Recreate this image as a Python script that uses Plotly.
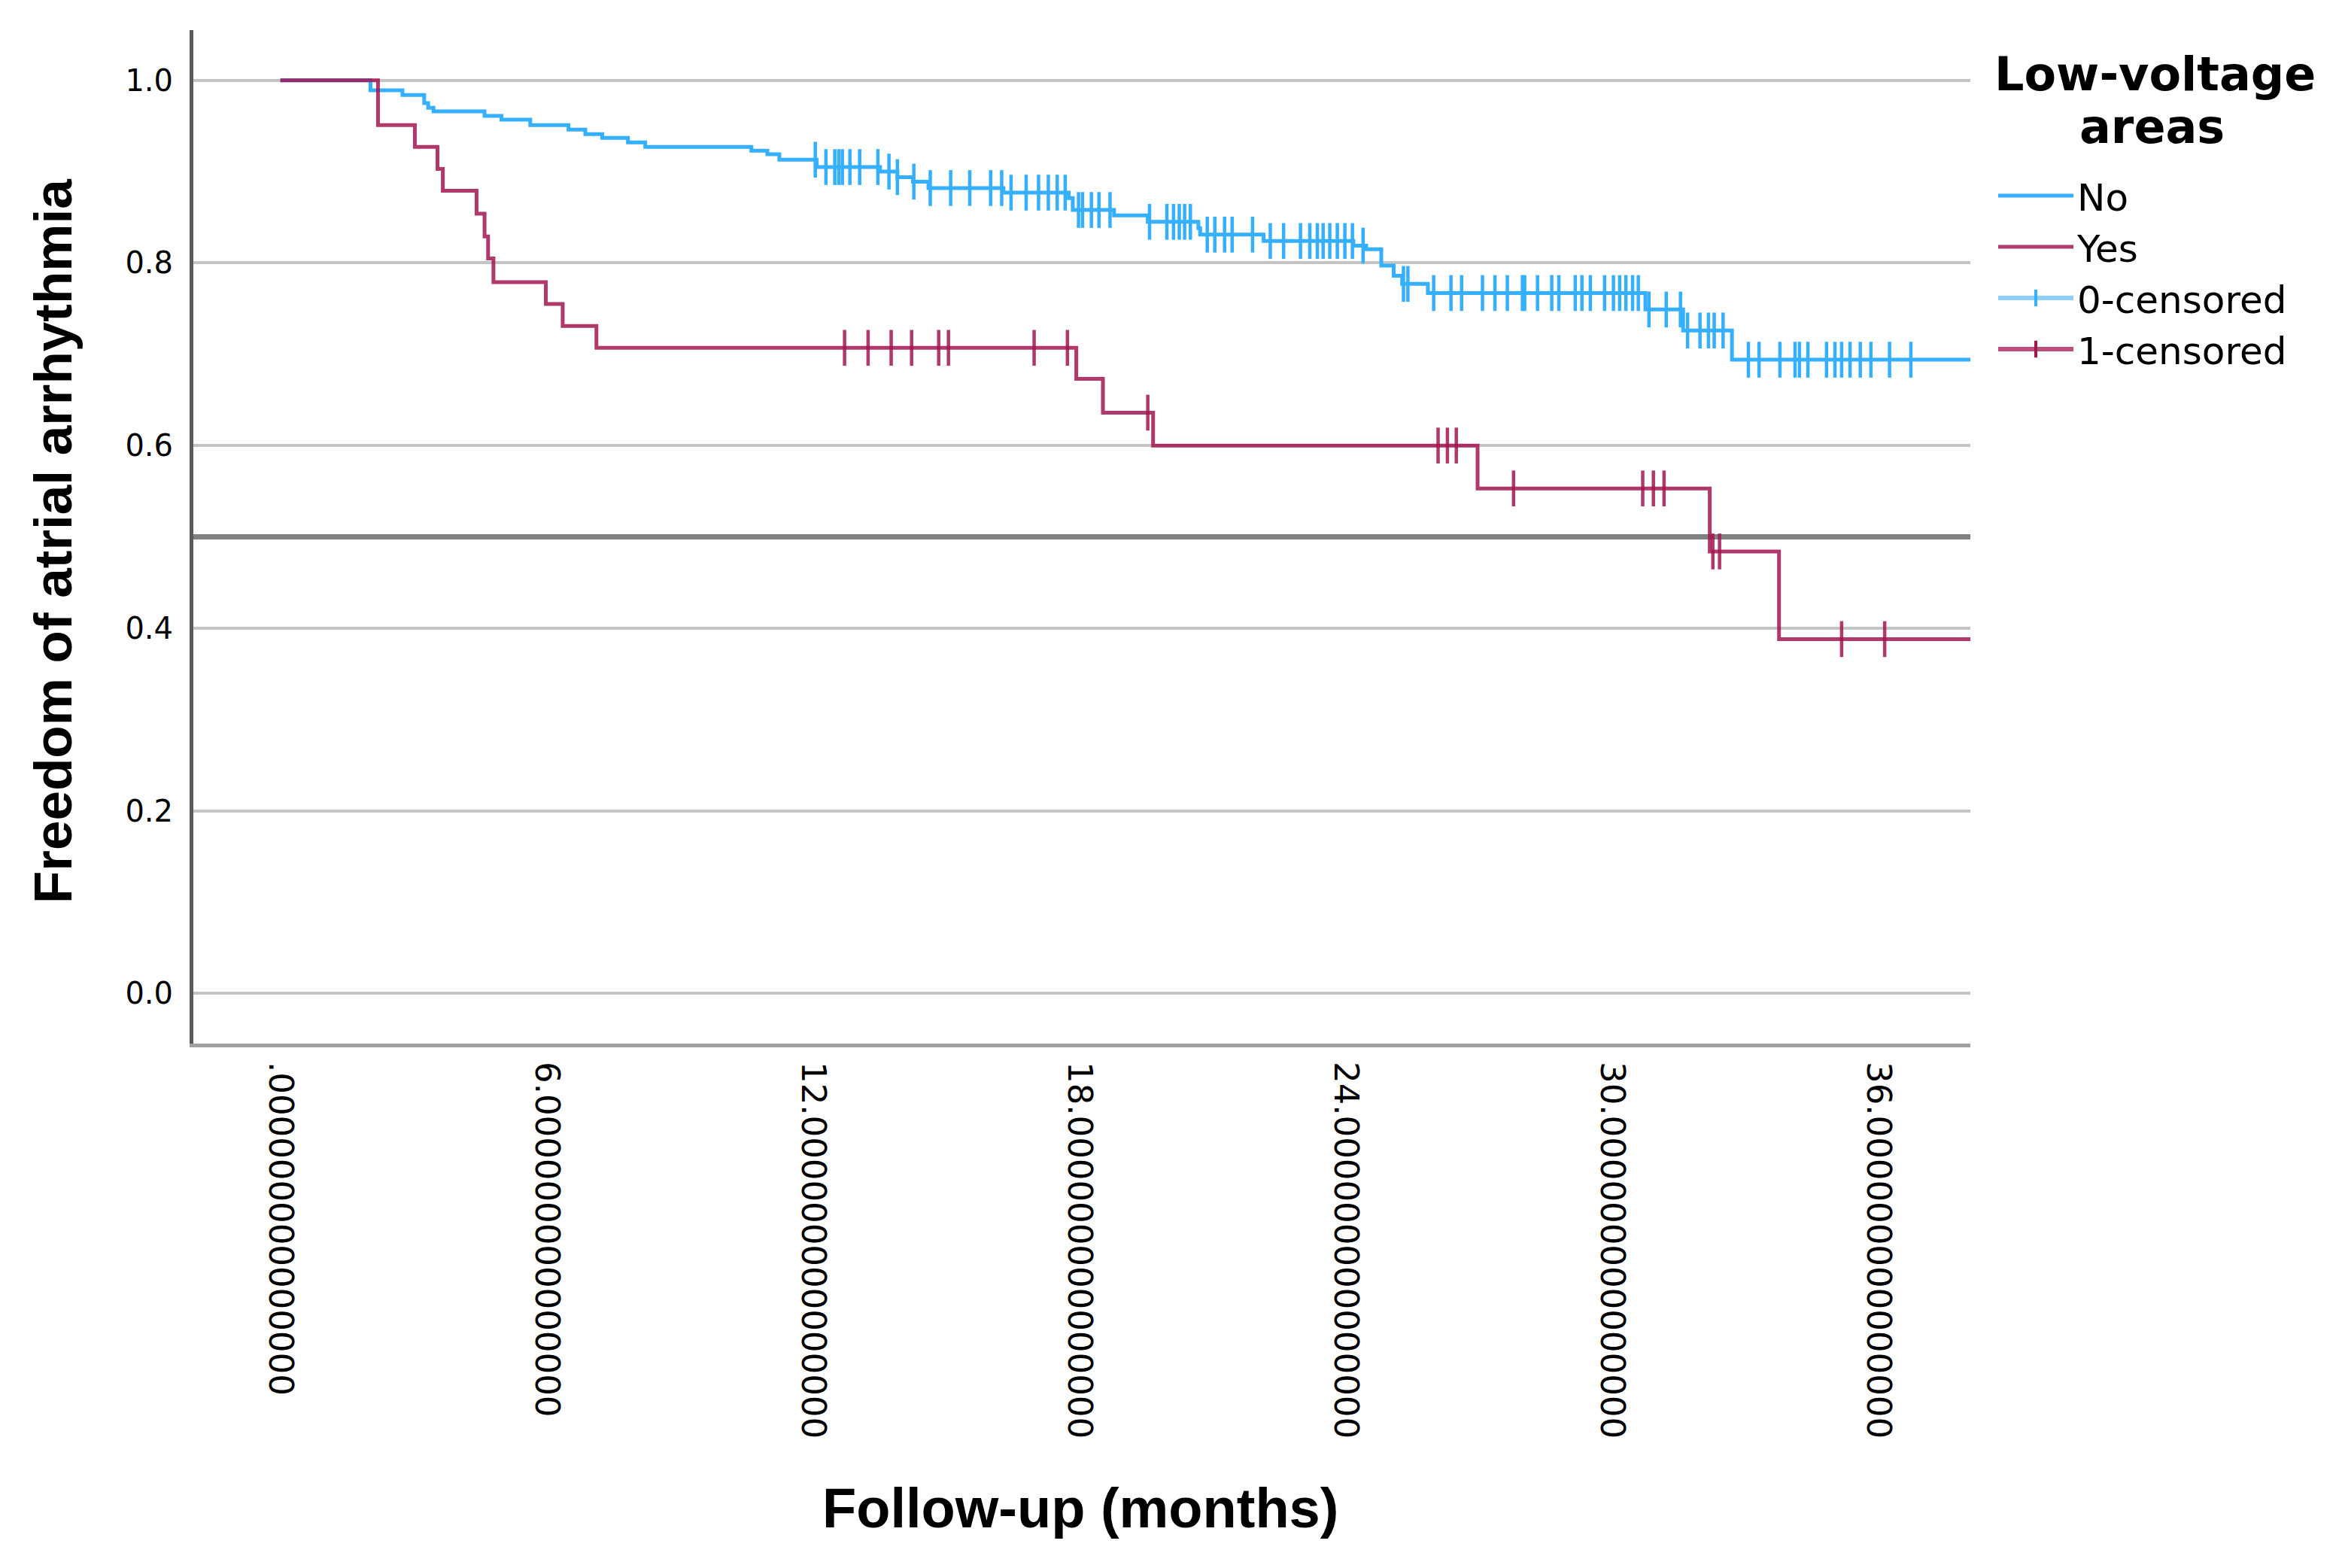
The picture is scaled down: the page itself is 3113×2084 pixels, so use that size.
import numpy as np
import plotly.graph_objects as go

# ---- Kaplan-Meier data (months, survival) ----
time_no = [0, 2.03, 2.75, 3.24, 3.33, 3.45, 4.6, 4.98, 5.63, 6.49, 6.87, 7.25, 7.83, 8.22,
           10.61, 10.97, 11.24, 12.08, 13.51, 13.9, 14.25, 14.6, 16.29, 17.76, 17.85, 18.78,
           19.54, 20.68, 20.72, 22.15, 24.17, 24.46, 24.8, 25.08, 25.27, 25.85, 30.75, 31.6,
           32.7, 38.1]
surv_no = [1.0, 0.989, 0.984, 0.975, 0.970, 0.966, 0.961, 0.957, 0.951, 0.946, 0.941, 0.937,
           0.932, 0.927, 0.923, 0.919, 0.913, 0.905, 0.900, 0.894, 0.889, 0.882, 0.877, 0.871,
           0.858, 0.852, 0.845, 0.838, 0.831, 0.824, 0.819, 0.815, 0.797, 0.786, 0.777, 0.767,
           0.749, 0.726, 0.694, 0.694]
cens_no = [12.05, 12.29, 12.49, 12.58, 12.66, 12.83, 13.05, 13.46, 13.71, 13.9, 14.27, 14.64,
           15.10, 15.53, 16.0, 16.25, 16.46, 16.80, 17.08, 17.3, 17.5, 17.68, 17.98, 18.07,
           18.27, 18.44, 18.69, 19.58, 19.97, 20.12, 20.25, 20.37, 20.5, 20.88, 21.05, 21.27,
           21.44, 21.9, 22.3, 22.6, 22.98, 23.19, 23.36, 23.49, 23.64, 23.81, 23.98, 24.15,
           24.39, 25.3, 25.4, 25.98, 26.37, 26.61, 27.08, 27.36, 27.64, 27.98, 28.03, 28.32,
           28.64, 28.8, 29.17, 29.32, 29.51, 29.83, 30.03, 30.17, 30.31, 30.46, 30.59, 30.83,
           31.22, 31.54, 31.7, 31.98, 32.17, 32.3, 32.5, 33.07, 33.31, 33.78, 34.12, 34.22,
           34.41, 34.83, 35.02, 35.17, 35.36, 35.59, 35.83, 36.25, 36.73]

time_yes = [0, 2.2, 3.03, 3.54, 3.66, 4.42, 4.6, 4.68, 4.8, 5.98, 6.36, 7.12, 17.93, 18.53,
            19.66, 26.97, 32.2, 33.76, 38.1]
surv_yes = [1.0, 0.951, 0.927, 0.903, 0.879, 0.854, 0.829, 0.805, 0.779, 0.755, 0.731, 0.707,
            0.673, 0.636, 0.600, 0.553, 0.484, 0.388, 0.388]
cens_yes = [12.71, 13.24, 13.76, 14.22, 14.83, 15.05, 16.98, 17.73, 19.54, 26.08, 26.29, 26.49,
            27.78, 30.69, 30.93, 31.17, 32.27, 32.42, 35.17, 36.14]

x_tickvals = [0, 6, 12, 18, 24, 30, 36]
x_ticktext = [".000000000000000", "6.000000000000000", "12.000000000000000",
              "18.000000000000000", "24.000000000000000", "30.000000000000000",
              "36.000000000000000"]
y_tickvals = [0.0, 0.2, 0.4, 0.6, 0.8, 1.0]
y_ticktext = ["0.0", "0.2", "0.4", "0.6", "0.8", "1.0"]
ref_level = 0.5
legend_title = ["Low-voltage", "areas"]

BLUE = "#35AFFF"
RED = "rgba(163,21,80,0.85)"
BLUE_L = "#8DCFFF"
RED_L = "#BC4E7C"


def level_at(times, survs, pts):
    idx = np.searchsorted(np.asarray(times), np.asarray(pts), side="right") - 1
    return list(np.asarray(survs)[idx])


fig = go.Figure()
fig.add_trace(go.Scatter(x=time_no, y=surv_no, mode="lines", line=dict(shape="hv", color=BLUE, width=5),
                         name="No", legendrank=1))
fig.add_trace(go.Scatter(x=time_yes, y=surv_yes, mode="lines", line=dict(shape="hv", color=RED, width=5),
                         name="Yes", legendrank=2))
fig.add_trace(go.Scatter(x=cens_no, y=level_at(time_no, surv_no, cens_no), mode="markers",
                         marker=dict(symbol="line-ns", size=34, line=dict(width=4.5, color=BLUE)),
                         showlegend=False))
fig.add_trace(go.Scatter(x=cens_yes, y=level_at(time_yes, surv_yes, cens_yes), mode="markers",
                         marker=dict(symbol="line-ns", size=34, line=dict(width=4.5, color=RED)),
                         showlegend=False))
# legend entries for censored marks
fig.add_trace(go.Scatter(x=[None], y=[None], mode="lines+markers", name="0-censored",
                         line=dict(color=BLUE_L, width=6),
                         marker=dict(symbol="line-ns", size=16, line=dict(width=4, color=BLUE)),
                         legendrank=3))
fig.add_trace(go.Scatter(x=[None], y=[None], mode="lines+markers", name="1-censored",
                         line=dict(color=RED_L, width=6),
                         marker=dict(symbol="line-ns", size=16, line=dict(width=4, color="#A3154F")),
                         legendrank=4))

fig.add_shape(type="line", xref="paper", x0=0, x1=1, yref="y", y0=ref_level, y1=ref_level,
              line=dict(color="#808080", width=7), layer="below")

# page has an 8px body margin -> figure is drawn 8px in from the window edge
W, H = 3097, 2068
L, R, T, B = 249, 486, 32, 689
PW, PH = W - L - R, H - T - B


def px_x(x):
    return (x - L) / PW


def px_y(y):
    return (H - B - y) / PH


fig.update_layout(
    width=W, height=H,
    margin=dict(l=L, r=R, t=T, b=B, autoexpand=False),
    paper_bgcolor="white", plot_bgcolor="white",
    showlegend=True,
    legend=dict(
        x=px_x(2643), xanchor="left", y=px_y(213), yanchor="top",
        font=dict(family="DejaVu Sans", size=50, color="black"),
        itemwidth=100, tracegroupgap=0, bgcolor="rgba(0,0,0,0)",
    ),
    xaxis=dict(range=[-1.96, 38.07], tickmode="array", tickvals=x_tickvals, ticktext=x_ticktext,
               tickangle=90, tickfont=dict(family="DejaVu Sans", size=45, color="black"),
               showgrid=False, zeroline=False, showline=True, linecolor="#A0A0A0", linewidth=5,
               ticks="", ticklabelstandoff=10),
    yaxis=dict(range=[-0.055, 1.055], tickmode="array", tickvals=y_tickvals, ticktext=y_ticktext,
               tickfont=dict(family="DejaVu Sans", size=40, color="black"),
               showgrid=True, gridcolor="#C4C4C4", gridwidth=4, zeroline=False,
               showline=True, linecolor="#5A5A5A", linewidth=5, ticks="", ticklabelstandoff=14),
    annotations=[
        dict(text="<b>Freedom of atrial arrhythmia</b>", xref="paper", yref="paper",
             x=px_x(62), y=px_y(712), textangle=-90, showarrow=False,
             font=dict(family="Liberation Sans", size=71, color="black"),
             xanchor="center", yanchor="middle"),
        dict(text="<b>Follow-up (months)</b>", xref="paper", yref="paper",
             x=px_x(1428), y=px_y(1996), showarrow=False,
             font=dict(family="Liberation Sans", size=74, color="black"),
             xanchor="center", yanchor="middle"),
        dict(text="<b>" + legend_title[0] + "</b>", xref="paper", yref="paper",
             x=px_x(2856), y=px_y(90), showarrow=False,
             font=dict(family="DejaVu Sans", size=62, color="black"),
             xanchor="center", yanchor="middle"),
        dict(text="<b>" + legend_title[1] + "</b>", xref="paper", yref="paper",
             x=px_x(2852), y=px_y(160), showarrow=False,
             font=dict(family="DejaVu Sans", size=62, color="black"),
             xanchor="center", yanchor="middle"),
    ],
)

fig.write_html("out.html")
